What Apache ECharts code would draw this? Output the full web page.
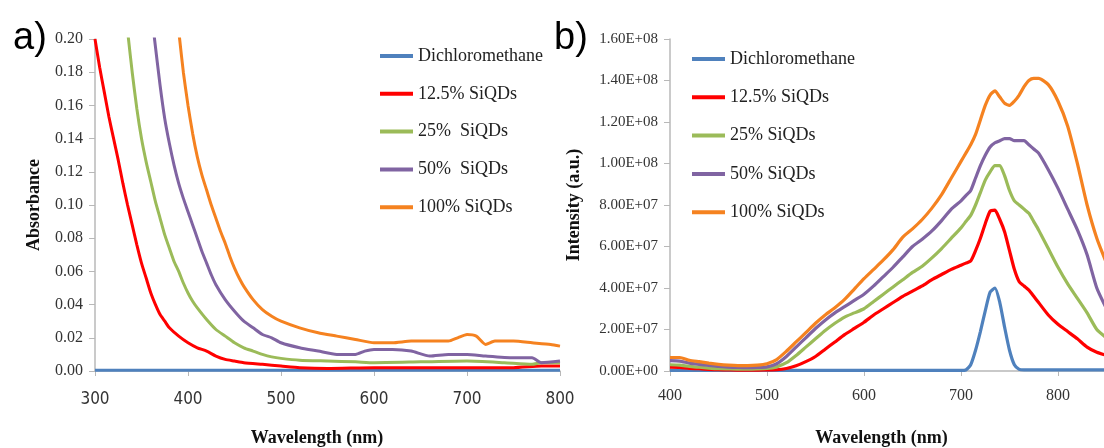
<!DOCTYPE html>
<html>
<head>
<meta charset="utf-8">
<script src="https://cdn.jsdelivr.net/npm/echarts@6/dist/echarts.min.js"></script>
<style>html,body{margin:0;padding:0;background:#fff}#c{width:1104px;height:448px}</style>
</head>
<body>
<div id="c"></div>
<script>
// ---------- Panel a) Absorbance ----------
const seriesNames = ['Dichloromethane', '12.5% SiQDs', '25%  SiQDs', '50%  SiQDs', '100% SiQDs'];
const seriesNamesB = ['Dichloromethane', '12.5% SiQDs', '25% SiQDs', '50% SiQDs', '100% SiQDs'];
const absYTicks = ['0.00','0.02','0.04','0.06','0.08','0.10','0.12','0.14','0.16','0.18','0.20'];

const absDcmX = [300, 350, 400, 450, 500, 550, 600, 650, 700, 750, 800];
const absDcmY = [0.0005, 0.0005, 0.0005, 0.0005, 0.0005, 0.0005, 0.0005, 0.0005, 0.0005, 0.0005, 0.0005];

const abs125X = [300,305,310,315,320,325,330,335,340,345,350,355,360,365,370,375,380,390,400,410,420,430,440,450,460,480,500,520,550,600,650,700,750,780,800];
const abs125Y = [0.200,0.183,0.168,0.153,0.140,0.127,0.113,0.100,0.088,0.076,0.065,0.056,0.047,0.040,0.034,0.030,0.026,0.021,0.017,0.014,0.012,0.009,0.007,0.006,0.005,0.004,0.003,0.002,0.0015,0.002,0.002,0.002,0.002,0.003,0.003];

const abs25X = [334,336,340,345,350,355,360,365,370,375,380,385,390,395,400,405,410,420,430,440,450,460,470,480,490,500,520,550,580,600,650,700,740,770,780,800];
const abs25Y = [0.21,0.200,0.180,0.158,0.140,0.126,0.114,0.102,0.092,0.082,0.074,0.066,0.060,0.053,0.047,0.042,0.038,0.031,0.025,0.021,0.017,0.014,0.012,0.010,0.0085,0.0076,0.0065,0.006,0.0055,0.005,0.0055,0.006,0.005,0.004,0.005,0.005];

const abs50X = [362,364,370,375,380,385,390,395,400,405,410,415,420,425,430,440,450,460,470,480,490,500,520,540,560,580,590,600,620,640,660,680,700,720,750,770,780,800];
const abs50Y = [0.21,0.200,0.172,0.152,0.137,0.124,0.113,0.104,0.096,0.088,0.080,0.072,0.065,0.058,0.052,0.043,0.036,0.030,0.026,0.022,0.020,0.017,0.014,0.012,0.010,0.010,0.012,0.013,0.013,0.012,0.009,0.010,0.010,0.009,0.008,0.008,0.005,0.006];

const abs100X = [389,391,395,400,405,410,415,420,425,430,435,440,445,450,455,460,470,480,490,500,520,540,560,580,600,620,640,660,680,690,700,710,720,730,750,770,790,800];
const abs100Y = [0.21,0.200,0.180,0.160,0.143,0.129,0.118,0.109,0.100,0.092,0.084,0.077,0.069,0.062,0.056,0.051,0.043,0.037,0.033,0.030,0.026,0.023,0.021,0.019,0.017,0.017,0.018,0.018,0.018,0.020,0.022,0.021,0.016,0.018,0.018,0.017,0.016,0.015];

// ---------- Panel b) Intensity (values in units of 1e7) ----------
const plX = [400,410,420,430,440,450,460,470,480,490,500,510,520,530,540,550,560,570,580,590,600,610,620,630,640,650,660,670,680,690,700,705,710,715,720,725,730,735,740,745,750,755,760,765,770,775,780,790,800,810,820,830,840,850];
const plDcm  = [0.03,0.03,0.03,0.03,0.03,0.03,0.03,0.03,0.03,0.03,0.03,0.03,0.03,0.03,0.03,0.03,0.03,0.03,0.03,0.03,0.03,0.03,0.03,0.03,0.03,0.03,0.03,0.03,0.03,0.03,0.03,0.05,0.3,1.0,1.9,2.9,3.8,4.0,3.3,2.1,1.0,0.3,0.08,0.05,0.05,0.05,0.05,0.05,0.05,0.05,0.05,0.05,0.05,0.05];
const pl125 = [0.18,0.17,0.13,0.11,0.08,0.06,0.05,0.04,0.04,0.04,0.05,0.06,0.12,0.25,0.45,0.7,1.05,1.4,1.75,2.05,2.35,2.7,3.0,3.3,3.6,3.85,4.1,4.4,4.65,4.9,5.1,5.2,5.3,5.8,6.4,7.1,7.7,7.75,7.3,6.7,5.8,4.9,4.3,4.1,3.9,3.6,3.3,2.7,2.25,1.9,1.55,1.15,0.9,0.75];
const pl25  = [0.3,0.28,0.22,0.18,0.14,0.11,0.1,0.09,0.09,0.1,0.12,0.2,0.4,0.75,1.15,1.55,1.95,2.3,2.6,2.8,3.0,3.35,3.7,4.05,4.4,4.75,5.05,5.45,5.9,6.4,6.9,7.2,7.5,8.0,8.6,9.2,9.6,9.9,9.9,9.4,8.7,8.2,8.0,7.8,7.6,7.2,6.8,5.9,5.0,4.2,3.5,2.8,2.0,1.6];
const pl50  = [0.5,0.48,0.38,0.32,0.27,0.22,0.19,0.17,0.16,0.17,0.2,0.35,0.7,1.15,1.6,2.05,2.45,2.8,3.1,3.4,3.7,4.1,4.55,5.0,5.5,6.0,6.35,6.75,7.25,7.8,8.2,8.45,8.7,9.3,9.9,10.4,10.8,11.0,11.1,11.2,11.2,11.1,11.1,11.1,10.9,10.7,10.5,9.7,8.8,7.8,6.8,5.6,4.0,3.0];
const pl100 = [0.65,0.65,0.52,0.45,0.38,0.32,0.28,0.26,0.26,0.28,0.35,0.55,0.95,1.4,1.85,2.3,2.7,3.05,3.45,3.95,4.45,4.9,5.35,5.85,6.45,6.85,7.3,7.85,8.5,9.3,10.1,10.5,10.9,11.4,12.1,12.8,13.3,13.5,13.2,12.9,12.8,13.0,13.3,13.7,14.0,14.1,14.1,13.8,13.0,11.8,10.0,8.0,6.4,5.2];
const plYTicks = ['0.00E+00','2.00E+07','4.00E+07','6.00E+07','8.00E+07','1.00E+08','1.20E+08','1.40E+08','1.60E+08'];

const colors = ['#4f81bd', '#ff0000', '#9bbb59', '#8064a2', '#f58220'];

function pairs(xs, ys, scale) {
  return xs.map((x, i) => [x, ys[i] * (scale || 1)]);
}

const serif = "'Liberation Serif', 'Times New Roman', serif";
const narrow = "'Liberation Sans Narrow', 'DejaVu Sans Condensed', 'Liberation Sans', sans-serif";

const absSets = [[absDcmX, absDcmY], [abs125X, abs125Y], [abs25X, abs25Y], [abs50X, abs50Y], [abs100X, abs100Y]];
const plSets = [plDcm, pl125, pl25, pl50, pl100];

const series = [];
absSets.forEach((s, i) => {
  series.push({
    name: seriesNames[i], type: 'line', xAxisIndex: 0, yAxisIndex: 0,
    data: pairs(s[0], s[1]), showSymbol: false, smooth: 0.2,
    lineStyle: { width: 3, color: colors[i] }, itemStyle: { color: colors[i] },
    clip: true, silent: true, z: 2 + i
  });
});
plSets.forEach((s, i) => {
  series.push({
    name: seriesNamesB[i], type: 'line', xAxisIndex: 1, yAxisIndex: 1,
    data: pairs(plX, s, 1e7), showSymbol: false, smooth: 0.2,
    lineStyle: { width: 3.2, color: colors[i] }, itemStyle: { color: colors[i] },
    clip: true, silent: true, z: 2 + i
  });
});

const axisGray = '#b8b8b8';
const chart = echarts.init(document.getElementById('c'), null, { renderer: 'canvas' });
chart.setOption({
  animation: false,
  backgroundColor: '#ffffff',
  title: [
    { text: 'a)', left: 8, top: 15, textStyle: { fontFamily: "'Liberation Sans', Arial, sans-serif", fontSize: 38, fontWeight: 'normal', color: '#000' } },
    { text: 'b)', left: 549, top: 15, textStyle: { fontFamily: "'Liberation Sans', Arial, sans-serif", fontSize: 38, fontWeight: 'normal', color: '#000' } }
  ],
  grid: [
    { left: 95, width: 465, top: 39, height: 332, outerBoundsMode: 'none', containLabel: false },
    { left: 670, width: 485, top: 39, height: 332, outerBoundsMode: 'none', containLabel: false }
  ],
  legend: [
    { data: seriesNames, orient: 'vertical', left: 375, top: 42, itemGap: 19.8, icon: 'rect', itemWidth: 33, itemHeight: 4, selectedMode: false,
      textStyle: { fontFamily: serif, fontSize: 18, color: '#222' } },
    { data: seriesNamesB, orient: 'vertical', left: 687, top: 45, itemGap: 20.3, icon: 'rect', itemWidth: 33, itemHeight: 4, selectedMode: false,
      textStyle: { fontFamily: serif, fontSize: 18, color: '#222' } }
  ],
  xAxis: [
    { gridIndex: 0, type: 'value', min: 300, max: 800, interval: 100,
      name: 'Wavelength (nm)', nameLocation: 'middle', nameGap: 58,
      nameTextStyle: { fontFamily: serif, fontSize: 18, fontWeight: 'bold', color: '#111', padding: [0, 21, 0, 0] },
      axisLine: { onZero: false, lineStyle: { color: axisGray, width: 1.5 } },
      axisTick: { inside: false, length: 5, lineStyle: { color: axisGray } },
      axisLabel: { fontFamily: narrow, fontSize: 17, color: '#333', margin: 20 },
      splitLine: { show: false } },
    { gridIndex: 1, type: 'value', min: 400, max: 900, interval: 100,
      name: 'Wavelength (nm)', nameLocation: 'middle', nameGap: 58,
      nameTextStyle: { fontFamily: serif, fontSize: 18, fontWeight: 'bold', color: '#111', padding: [0, 62, 0, 0] },
      axisLine: { onZero: false, lineStyle: { color: axisGray, width: 1.5 } },
      axisTick: { inside: false, length: 5, lineStyle: { color: axisGray } },
      axisLabel: { fontFamily: serif, fontSize: 16, color: '#333', margin: 17 },
      splitLine: { show: false } }
  ],
  yAxis: [
    { gridIndex: 0, type: 'value', min: 0, max: 0.2, interval: 0.02,
      name: 'Absorbance', nameLocation: 'middle', nameGap: 52, nameRotate: 90,
      nameTextStyle: { fontFamily: serif, fontSize: 18, fontWeight: 'bold', color: '#111' },
      axisLine: { show: true, lineStyle: { color: axisGray, width: 1.5 } },
      axisTick: { show: true, length: 6, lineStyle: { color: axisGray } },
      axisLabel: { fontFamily: serif, fontSize: 16, color: '#333', margin: 12,
        formatter: (v) => absYTicks[Math.round(v / 0.02)] },
      splitLine: { show: false } },
    { gridIndex: 1, type: 'value', min: 0, max: 1.6e8, interval: 2e7,
      name: 'Intensity (a.u.)', nameLocation: 'middle', nameGap: 87, nameRotate: 90,
      nameTextStyle: { fontFamily: serif, fontSize: 18, fontWeight: 'bold', color: '#111' },
      axisLine: { show: true, lineStyle: { color: axisGray, width: 1.5 } },
      axisTick: { show: true, length: 6, lineStyle: { color: axisGray } },
      axisLabel: { fontFamily: serif, fontSize: 15, color: '#333', margin: 12,
        formatter: (v) => plYTicks[Math.round(v / 2e7)] },
      splitLine: { show: false } }
  ],
  series: series
});
</script>
</body>
</html>
